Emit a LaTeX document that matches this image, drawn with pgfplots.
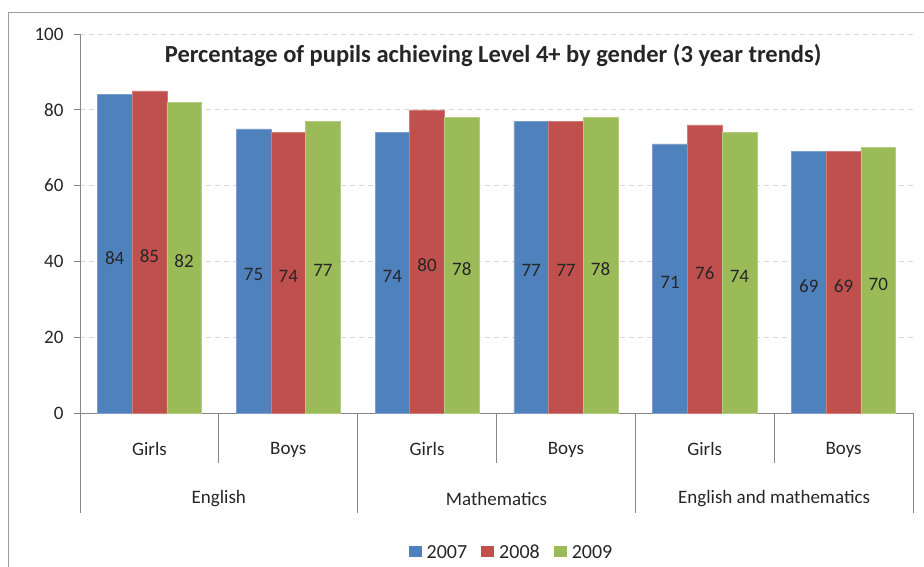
\documentclass[border=0pt]{standalone}
\usepackage{pgfplots}
\pgfplotsset{compat=1.18}
\usepackage{pgfplotstable}
\usepackage{fontspec}
\setmainfont{Carlito}
\definecolor{cblue}{HTML}{4F81BD}
\definecolor{cred}{HTML}{C0504D}
\definecolor{cgreen}{HTML}{9BBB59}
\definecolor{axgray}{HTML}{868686}
\definecolor{txt}{HTML}{262626}
\pgfplotstableread{
x a b c
0 84 85 82
1 75 74 77
2 74 80 78
3 77 77 78
4 71 76 74
5 69 69 70
}\data
\begin{document}
\begin{tikzpicture}
\useasboundingbox (0pt,0pt) rectangle (924pt,-567pt);
\draw[axgray!80, line width=1pt] (8pt,-590pt) -- (8pt,-13pt) -- (950pt,-13pt);
\begin{axis}[
  at={(80pt,-413pt)}, anchor=south west, scale only axis,
  width=833pt, height=379pt,
  ybar, bar width=0.25,
  ymin=0, ymax=100, xmin=-0.5, xmax=5.5,
  ytick={0,20,...,100},
  xtick={0,...,5},
  xticklabels={Girls,Boys,Girls,Boys,Girls,Boys},
  axis x line*=bottom, axis y line*=left,
  axis line style={axgray, line width=0.8pt},
  x tick style={draw=none},
  y tick style={axgray, line width=0.8pt},
  tick align=outside, major tick length=6pt,
  ymajorgrids, major grid style={dash pattern=on 5pt off 4pt, color=black!15, line width=0.8pt},
  ticklabel style={font=\fontsize{19}{22}\selectfont, text=txt},
  yticklabel style={xshift=-7pt},
  xticklabel style={yshift=-20pt},
  /pgf/number format/assume math mode=true,
  clip=false,
  legend columns=3,
  legend style={at={(0.518,-0.369)}, anchor=center, draw=none, fill=none,
    font=\fontsize{20}{23}\selectfont, text=txt,
    /tikz/every even column/.append style={column sep=12pt}},
  legend image code/.code={\fill[#1, draw=none] (0pt,-4pt) rectangle (13pt,7pt);},
  every node near coord/.append style={anchor=center, font=\fontsize{19}{22}\selectfont, text=txt},
]
\addplot[fill=cblue, draw=cblue!75!white, line width=0.5pt, bar shift=-0.25] table[x=x,y=a]{\data};
\addplot[fill=cred, draw=cred!75!white, line width=0.5pt, bar shift=0] table[x=x,y=b]{\data};
\addplot[fill=cgreen, draw=cgreen!75!white, line width=0.5pt, bar shift=0.25] table[x=x,y=c]{\data};
\legend{\hspace{3pt}2007,\hspace{3pt}2008,\hspace{3pt}2009}
\addplot[forget plot, draw=none, fill=none, bar shift=-0.25, nodes near coords={\pgfplotspointmeta}, point meta=explicit symbolic] table[x=x, y expr=\thisrow{a}/2-1, meta=a]{\data};
\addplot[forget plot, draw=none, fill=none, bar shift=0, nodes near coords={\pgfplotspointmeta}, point meta=explicit symbolic] table[x=x, y expr=\thisrow{b}/2-1, meta=b]{\data};
\addplot[forget plot, draw=none, fill=none, bar shift=0.25, nodes near coords={\pgfplotspointmeta}, point meta=explicit symbolic] table[x=x, y expr=\thisrow{c}/2-1, meta=c]{\data};
\draw[axgray, line width=0.8pt] (axis cs:0.5,0) -- ++(0pt,-50pt);
\draw[axgray, line width=0.8pt] (axis cs:2.5,0) -- ++(0pt,-50pt);
\draw[axgray, line width=0.8pt] (axis cs:4.5,0) -- ++(0pt,-50pt);
\draw[axgray, line width=0.8pt] (axis cs:-0.5,0) -- ++(0pt,-100pt);
\draw[axgray, line width=0.8pt] (axis cs:1.5,0) -- ++(0pt,-100pt);
\draw[axgray, line width=0.8pt] (axis cs:3.5,0) -- ++(0pt,-100pt);
\draw[axgray, line width=0.8pt] (axis cs:5.5,0) -- ++(0pt,-100pt);
\node[font=\fontsize{19}{22}\selectfont, text=txt] at (axis cs:0.5,0) [yshift=-86pt] {English};
\node[font=\fontsize{19}{22}\selectfont, text=txt] at (axis cs:2.5,0) [yshift=-86pt] {Mathematics};
\node[font=\fontsize{19}{22}\selectfont, text=txt] at (axis cs:4.5,0) [yshift=-86pt] {English and mathematics};
\node[font=\bfseries\fontsize{24.5}{28}\selectfont, text=txt] at (rel axis cs:0.496,0.942) {Percentage of pupils achieving Level 4+ by gender (3 year trends)};
\end{axis}
\end{tikzpicture}
\end{document}
